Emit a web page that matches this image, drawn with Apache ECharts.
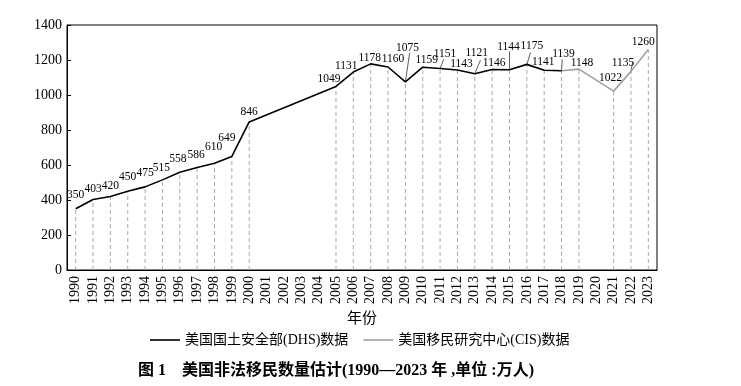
<!DOCTYPE html>
<html>
<head>
<meta charset="utf-8">
<script src="https://cdn.jsdelivr.net/npm/echarts@6/dist/echarts.min.js"></script>
<style>
html,body{margin:0;padding:0;background:#fff;}
#chart{width:741px;height:386px;}
</style>
</head>
<body>
<div id="chart"></div>
<script>
// ---- data ----
var years = ['1990','1991','1992','1993','1994','1995','1996','1997','1998','1999','2000','2001','2002','2003','2004','2005','2006','2007','2008','2009','2010','2011','2012','2013','2014','2015','2016','2017','2018','2019','2020','2021','2022','2023'];
var dhsValues = [350,403,420,450,475,515,558,586,610,649,846,null,null,null,null,1049,1131,1178,1160,1075,1159,1151,1143,1121,1146,1144,1175,1141,1139,null,null,null,null,null];
var cisValues = [null,null,null,null,null,null,null,null,null,null,null,null,null,null,null,null,null,null,null,null,null,null,null,null,null,null,null,null,1139,1148,null,1022,1135,1260];
var yTicks = [0,200,400,600,800,1000,1200,1400];
var seriesNames = ['美国国土安全部(DHS)数据','美国移民研究中心(CIS)数据'];
var titleText = '图 1    美国非法移民数量估计(1990—2023 年 ,单位 :万人)';

// ---- label placement (style only): [dx, dy, leaderDx, leaderDy] relative to point ----
var labelOffsets = {
  '1990':[0,-14],'1991':[0,-10],'1992':[0,-11],'1993':[0,-14],'1994':[0,-14],
  '1995':[-1,-12],'1996':[-2,-13],'1997':[-1,-12],'1998':[-1,-16],'1999':[-5,-18],
  '2000':[0,-10],'2005':[-7,-7],'2006':[-7,-6],'2007':[-1,-6],'2008':[5,-8],
  '2009':[2,-34,4.3,-29],'2010':[4,-7],'2011':[5,-15,3.6,-9.3],'2012':[4,-6],
  '2013':[2,-21,5.7,-13.8],'2014':[2,-6],'2015':[-1,-23,0,-18.3],'2016':[5,-18,3.7,-12],
  '2017':[-1,-8],'2018':[2,-17,0.7,-11.4],'2019':[3,-6],'2021':[-3,-13],
  '2022':[-8,-8,1.7,-9.7],'2023':[-5,-8]
};

// points for dashed drop lines and labels
var pointData = [];
years.forEach(function(y, i){
  var v = dhsValues[i] != null ? dhsValues[i] : cisValues[i];
  if (v != null) pointData.push([i, v]);
});

var serif = '"Liberation Serif", "Noto Sans CJK SC", serif';
var chart = echarts.init(document.getElementById('chart'), null, {renderer:'canvas'});
chart.setOption({
  animation:false,
  backgroundColor:'#fff',
  textStyle:{fontFamily:serif, color:'#000'},
  title:{
    text:titleText, left:133, top:358,
    textStyle:{fontFamily:serif, fontSize:16, fontWeight:'bold', color:'#000'}
  },
  legend:{
    left:145, top:328, itemWidth:30, itemHeight:1.6, itemGap:15,
    icon:'rect',
    data:seriesNames,
    textStyle:{fontFamily:serif, fontSize:14, color:'#000'}
  },
  grid:{left:67, right:84, top:25, bottom:116, show:true, borderColor:'#000', borderWidth:1},
  xAxis:{
    type:'category', data:years, boundaryGap:true,
    name:'年份', nameLocation:'middle', nameGap:41,
    nameTextStyle:{fontFamily:serif, fontSize:15, color:'#000'},
    axisLine:{lineStyle:{color:'#000', width:1}},
    axisTick:{show:false},
    axisLabel:{rotate:90, interval:0, fontSize:14, color:'#000', fontFamily:serif, margin:6}
  },
  yAxis:{
    type:'value', min:yTicks[0], max:yTicks[yTicks.length-1], interval:200,
    splitLine:{show:false},
    axisLine:{show:true, lineStyle:{color:'#000', width:1}},
    axisTick:{show:true, inside:true, length:4, lineStyle:{color:'#000'}},
    axisLabel:{fontSize:14, color:'#000', fontFamily:serif, margin:5,
      formatter:function(v){ return String(v); }}
  },
  series:[
    {
      type:'custom', name:'drop', z:1, silent:true,
      encode:{x:0, y:1},
      data:pointData,
      renderItem:function(params, api){
        var idx = api.value(0), v = api.value(1);
        var base = api.coord([idx, 0]);
        var pt = api.coord([idx, v]);
        var off = labelOffsets[years[idx]] || [0,-10];
        var children = [
          {type:'line', shape:{x1:pt[0], y1:base[1], x2:pt[0], y2:pt[1]},
           style:{stroke:'#a9a9a9', lineWidth:1, lineDash:[4,3]}},
          {type:'text', x:pt[0]+off[0], y:pt[1]+off[1], z2:10,
           style:{text:String(v), fill:'#000', font:'11.5px "Liberation Serif"', align:'center', verticalAlign:'middle'}}
        ];
        if (off.length > 2) {
          children.push({type:'line', shape:{x1:pt[0], y1:pt[1], x2:pt[0]+off[2], y2:pt[1]+off[3]},
            style:{stroke:'#333', lineWidth:0.8}});
        }
        return {type:'group', children:children};
      }
    },
    {
      type:'line', name:seriesNames[0], data:dhsValues, connectNulls:true,
      symbol:'none', z:3,
      lineStyle:{color:'#000', width:1.6}, itemStyle:{color:'#000'}
    },
    {
      type:'line', name:seriesNames[1], data:cisValues, connectNulls:true,
      symbol:'none', z:2,
      lineStyle:{color:'#a0a0a0', width:1.6}, itemStyle:{color:'#a0a0a0'}
    }
  ]
});
</script>
</body>
</html>
